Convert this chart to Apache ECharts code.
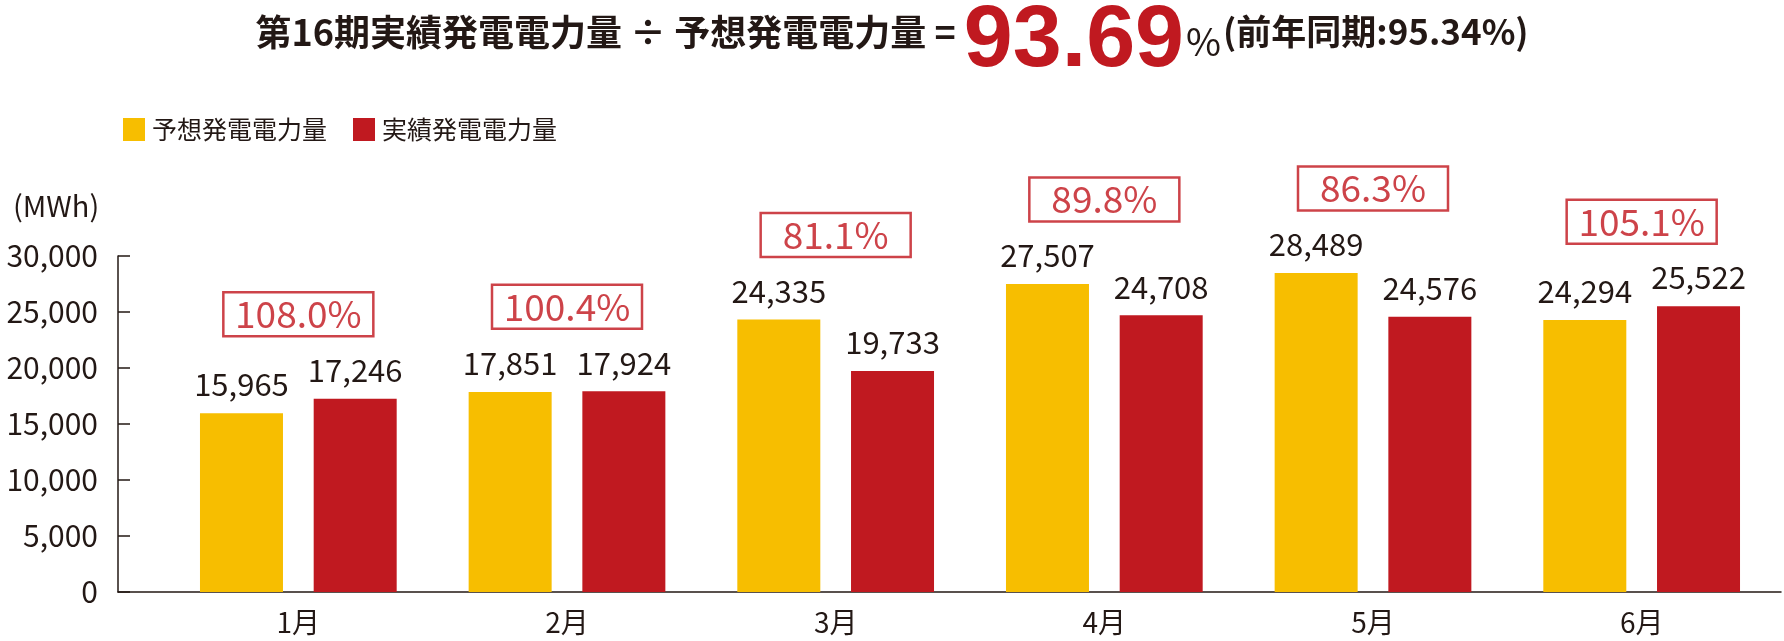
<!DOCTYPE html>
<html>
<head>
<meta charset="utf-8">
<script src="https://cdn.jsdelivr.net/npm/echarts@6/dist/echarts.min.js"></script>
<style>
html,body{margin:0;padding:0;background:#fff;}
#chart{width:1784px;height:641px;}
</style>
</head>
<body>
<div id="chart"></div>
<script>
// ---- data ----
const months = ['1月', '2月', '3月', '4月', '5月', '6月'];
const forecastValues = [15965, 17851, 24335, 27507, 28489, 24294];
const actualValues = [17246, 17924, 19733, 24708, 24576, 25522];
const ratioLabels = ['108.0%', '100.4%', '81.1%', '89.8%', '86.3%', '105.1%'];
const seriesNames = ['予想発電電力量', '実績発電電力量'];
const yTicks = { min: 0, max: 30000, interval: 5000 };
const titleMain = '第16期実績発電電力量 ÷ 予想発電電力量 = ';
const titleRatio = '93.69';
const titlePrev = '(前年同期:95.34%)';
const unitLabel = '(MWh)';

const FONT = '"Noto Sans CJK JP", "Noto Sans", sans-serif';
const TEXT = '#231815';
const YELLOW = '#F7BE00';
const RED = '#C01920';
const RATIO_RED = '#C0141C';

const boxAnchor = forecastValues.map((v, i) => Math.max(v, actualValues[i]));

const chart = echarts.init(document.getElementById('chart'), null, { renderer: 'canvas' });
chart.setOption({
  backgroundColor: '#fff',
  animation: false,
  textStyle: { fontFamily: FONT },
  title: [
    {
      left: 'center',
      top: -22,
      text: '{a|' + titleMain + '}{b|' + titleRatio + '}{c|%}{d|' + titlePrev + '}',
      textStyle: {
        rich: {
          a: { fontFamily: FONT, fontWeight: 'bold', fontSize: 36, color: TEXT, verticalAlign: 'middle', padding: [8, 0, 0, 0] },
          b: { fontFamily: '"Liberation Sans", Arial, sans-serif', fontWeight: 'bold', fontSize: 88, color: RED, lineHeight: 90, verticalAlign: 'middle', padding: [28, 0, 0, 0] },
          c: { fontFamily: FONT, fontWeight: 'normal', fontSize: 38, color: TEXT, verticalAlign: 'bottom', padding: [0, 2, 12, 2] },
          d: { fontFamily: FONT, fontWeight: 'bold', fontSize: 35, color: TEXT, verticalAlign: 'middle', padding: [8, 0, 0, 0] }
        }
      }
    },
    {
      left: 8,
      top: 186,
      text: unitLabel,
      textStyle: { fontFamily: FONT, fontWeight: 'normal', fontSize: 29, color: TEXT }
    }
  ],
  legend: {
    left: 118,
    top: 112,
    itemWidth: 22,
    itemHeight: 23,
    itemGap: 26,
    icon: 'rect',
    textStyle: { fontFamily: FONT, fontSize: 25, color: TEXT, padding: [0, 0, 0, 2] },
    data: seriesNames
  },
  grid: [
    { left: 164, right: 8, top: 256, bottom: 49 },
    { left: 118, right: 3, top: 256, bottom: 49 }
  ],
  xAxis: [
    {
      type: 'category',
      gridIndex: 0,
      data: months,
      axisLine: { show: false },
      axisTick: { show: false },
      axisLabel: { fontFamily: FONT, fontSize: 28, color: TEXT, margin: 16 }
    },
    {
      type: 'value',
      gridIndex: 1,
      min: 0,
      max: 1,
      axisLine: { show: true, lineStyle: { color: TEXT, width: 1.5 } },
      axisTick: { show: false },
      axisLabel: { show: false },
      splitLine: { show: false }
    }
  ],
  yAxis: [
    {
      type: 'value',
      gridIndex: 0,
      min: yTicks.min,
      max: yTicks.max,
      interval: yTicks.interval,
      show: false
    },
    {
      type: 'value',
      gridIndex: 1,
      min: yTicks.min,
      max: yTicks.max,
      interval: yTicks.interval,
      axisLine: { show: true, lineStyle: { color: TEXT, width: 1.5 } },
      axisTick: { show: true, inside: true, length: 12, lineStyle: { color: TEXT, width: 1.5 } },
      axisLabel: {
        fontFamily: FONT, fontSize: 30, color: TEXT, margin: 20,
        formatter: v => v.toLocaleString('en-US')
      },
      splitLine: { show: false }
    }
  ],
  series: [
    {
      name: seriesNames[0],
      type: 'bar',
      xAxisIndex: 0,
      yAxisIndex: 0,
      data: forecastValues,
      barWidth: 83,
      barGap: '37%',
      itemStyle: { color: YELLOW },
      label: {
        show: true, position: 'top', distance: 13,
        fontFamily: FONT, fontSize: 31, color: TEXT,
        formatter: p => p.value.toLocaleString('en-US')
      }
    },
    {
      name: seriesNames[1],
      type: 'bar',
      xAxisIndex: 0,
      yAxisIndex: 0,
      data: actualValues,
      barWidth: 83,
      barGap: '37%',
      itemStyle: { color: RED },
      label: {
        show: true, position: 'top', distance: 13,
        fontFamily: FONT, fontSize: 31, color: TEXT,
        formatter: p => p.value.toLocaleString('en-US')
      }
    },
    {
      name: 'ratio',
      type: 'scatter',
      xAxisIndex: 0,
      yAxisIndex: 0,
      data: boxAnchor,
      symbolSize: 1,
      itemStyle: { color: 'rgba(0,0,0,0)' },
      silent: true,
      label: {
        show: true,
        position: 'top',
        distance: 62,
        formatter: p => ratioLabels[p.dataIndex],
        fontFamily: FONT,
        fontSize: 37,
        color: RATIO_RED,
        width: 150,
        height: 44,
        lineHeight: 44,
        align: 'center',
        borderColor: RATIO_RED,
        borderWidth: 2.5
      }
    }
  ]
});
</script>
</body>
</html>
